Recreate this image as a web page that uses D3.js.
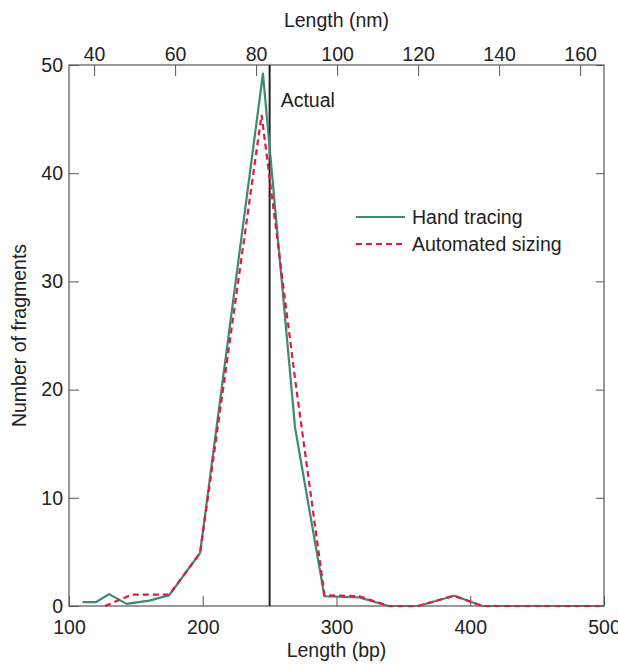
<!DOCTYPE html>
<html>
<head>
<meta charset="utf-8">
<script src="https://cdn.jsdelivr.net/npm/d3@7"></script>
<style>
  body { margin: 0; background: #fff; }
  svg text { font-family: "Liberation Sans", Arial, Helvetica, sans-serif; fill: #222; }
</style>
</head>
<body>
<svg id="chart" width="618" height="664"></svg>
<script>
// values
var handBp    = [110, 120, 130, 143, 160, 175, 198, 245, 269, 291, 317, 339, 361, 388, 409, 500];
var handCount = [0.35, 0.35, 1.1, 0.2, 0.5, 1.0, 4.9, 49.2, 16.5, 0.9, 0.8, 0, 0, 0.95, 0, 0];

var autoBp    = [127, 147, 175, 198, 244, 269, 291, 317, 339, 361, 388, 409, 500];
var autoCount = [0, 1.05, 1.05, 4.9, 45.4, 21, 1.0, 0.9, 0, 0, 0.95, 0, 0];

var actualBp = 250;
var bpTicks = [100, 200, 300, 400, 500];
var nmTicks = [40, 60, 80, 100, 120, 140, 160];
var nmDomain = [33.8, 165.9];   // top axis span over 100..500 bp
var countTicks = [0, 10, 20, 30, 40, 50];

var fs = 19.5;

var svg = d3.select("#chart"),
    margin = {top: 65, right: 14, bottom: 58, left: 69},
    width = +svg.attr("width") - margin.left - margin.right,
    height = +svg.attr("height") - margin.top - margin.bottom;

var g = svg.append("g").attr("transform", "translate(" + margin.left + "," + margin.top + ")");

var x = d3.scaleLinear().domain([100, 500]).range([0, width]);
var xTop = d3.scaleLinear().domain(nmDomain).range([0, width]);
var y = d3.scaleLinear().domain([0, 50]).range([height, 0]);

var axisColor = "#555";
function styleAxis(sel) {
  sel.select(".domain").remove();
  sel.selectAll(".tick line").attr("stroke", axisColor);
  sel.selectAll(".tick text").attr("font-size", fs).attr("fill", "#222");
}

g.append("g")
    .attr("transform", "translate(0," + height + ")")
    .call(d3.axisBottom(x).tickValues(bpTicks).tickSize(-10).tickPadding(14).tickFormat(d3.format("d")))
    .call(styleAxis);

g.append("g")
    .call(d3.axisTop(xTop).tickValues(nmTicks).tickSize(-11).tickPadding(4).tickFormat(d3.format("d")))
    .call(styleAxis);

g.append("g")
    .call(d3.axisLeft(y).tickValues(countTicks).tickSize(-10).tickPadding(6))
    .call(styleAxis);

g.append("g")
    .attr("transform", "translate(" + width + ",0)")
    .call(d3.axisRight(y).tickValues(countTicks).tickSize(-8).tickFormat(""))
    .call(styleAxis);

g.append("rect")
    .attr("width", width)
    .attr("height", height)
    .attr("fill", "none")
    .attr("stroke", axisColor)
    .attr("stroke-width", 1.2);

// axis titles
svg.append("text")
    .attr("x", margin.left + width / 2)
    .attr("y", 27)
    .attr("text-anchor", "middle")
    .attr("font-size", fs)
    .text("Length (nm)");

svg.append("text")
    .attr("x", margin.left + width / 2)
    .attr("y", 657)
    .attr("text-anchor", "middle")
    .attr("font-size", fs)
    .text("Length (bp)");

svg.append("text")
    .attr("transform", "translate(26," + (margin.top + height / 2) + ") rotate(-90)")
    .attr("text-anchor", "middle")
    .attr("font-size", fs)
    .text("Number of fragments");

// actual length marker
g.append("line")
    .attr("x1", x(actualBp)).attr("x2", x(actualBp))
    .attr("y1", 0).attr("y2", height)
    .attr("stroke", "#222")
    .attr("stroke-width", 2);

g.append("text")
    .attr("x", x(actualBp) + 11)
    .attr("y", 42)
    .attr("font-size", fs)
    .text("Actual");

var line = d3.line()
    .x(function(d) { return x(d[0]); })
    .y(function(d) { return y(d[1]); });

g.append("path")
    .datum(d3.zip(handBp, handCount))
    .attr("fill", "none")
    .attr("stroke", "#3b8b72")
    .attr("stroke-width", 2.2)
    .attr("stroke-linejoin", "round")
    .attr("d", line);

g.append("path")
    .datum(d3.zip(autoBp, autoCount))
    .attr("fill", "none")
    .attr("stroke", "#e8173f")
    .attr("stroke-width", 2.2)
    .attr("stroke-dasharray", "6,4")
    .attr("d", line);

// legend
var legend = svg.append("g").attr("transform", "translate(356,217)");
legend.append("line")
    .attr("x1", 0).attr("x2", 49).attr("y1", 0).attr("y2", 0)
    .attr("stroke", "#3b8b72").attr("stroke-width", 2.2);
legend.append("text")
    .attr("x", 56).attr("y", 7)
    .attr("font-size", fs)
    .text("Hand tracing");
legend.append("line")
    .attr("x1", 0).attr("x2", 49).attr("y1", 27).attr("y2", 27)
    .attr("stroke", "#e8173f").attr("stroke-width", 2.2)
    .attr("stroke-dasharray", "6,4");
legend.append("text")
    .attr("x", 56).attr("y", 33.5)
    .attr("font-size", fs)
    .text("Automated sizing");
</script>
</body>
</html>
